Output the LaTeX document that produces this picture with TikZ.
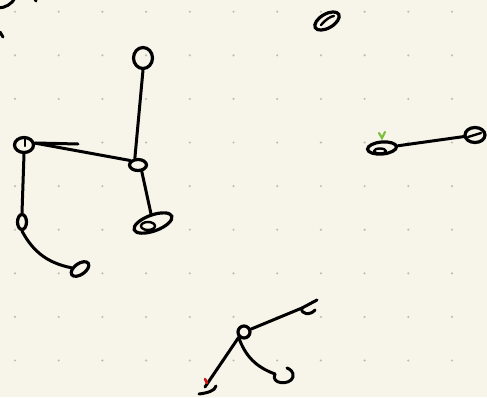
\documentclass[tikz,border=0pt]{standalone}
\definecolor{sketchpaper}{RGB}{247,245,233}
\definecolor{sketchdot}{RGB}{190,190,185}
\definecolor{sketchgreen}{RGB}{125,190,60}
\definecolor{sketchred}{RGB}{215,20,20}
\usepackage{tikz}
\usetikzlibrary{shapes.geometric, positioning}
\tikzset{
  blob/.style={ellipse, draw=black, line width=3.2pt, inner sep=0pt},
  stroke/.style={draw=black, line width=3pt, line cap=round, line join=round},
  scribble/.style={draw=black, line width=2.4pt, line cap=round, line join=round},
}
\begin{document}
\begin{tikzpicture}[x=1pt, y=-1pt]
  % paper
  \fill[sketchpaper] (0,0) rectangle (487,397);
  \useasboundingbox (0,0) rectangle (487,397);
  \clip (0,0) rectangle (487,397);
  % dot grid
  \foreach \i in {0,...,10}{
    \foreach \j in {0,...,8}{
      \fill[sketchdot] (15+43.7*\i, 11.7+43.6*\j) circle (1.2pt);
    }
  }
  % strokes cut off at the edge
  \draw[stroke] (-2,8) .. controls (5,8) and (12,4) .. (15,-2);
  \draw[stroke] (35,-1) -- (36,1);
  \draw[stroke] (0,32) -- (3,37);
  % left figure
  \node[blob, minimum width=19pt, minimum height=21pt] (head) at (143,58) {};
  \node[blob, minimum width=19pt, minimum height=15pt] (hub) at (24,145) {};
  \node[blob, minimum width=17pt, minimum height=11pt] (mid) at (138,165) {};
  \node[blob, minimum width=40pt, minimum height=16pt, rotate=20] (foot) at (153,223) {};
  \node[blob, minimum width=9pt, minimum height=15pt] (knee) at (22,222) {};
  \node[blob, minimum width=20pt, minimum height=11pt, rotate=35] (toe) at (80,269) {};
  \draw[stroke] (head.south) -- (mid.115);
  \draw[stroke] (hub.10) -- (mid.150);
  \draw[stroke] (36,143) -- (78,144);
  \draw[stroke] (mid.300) -- (foot);
  \draw[stroke] (hub.south) -- (knee.north);
  \draw[stroke] (knee.south) to[bend right=25] (toe);
  \draw[scribble] (148,226) ellipse (7pt and 4pt);
  \draw[scribble] (25,139) -- (25,146);
  % top right
  \node[blob, minimum width=27pt, minimum height=14pt, rotate=30] (ring) at (327,21) {};
  \draw[scribble] (321,25) .. controls (325,20) and (331,16) .. (334,16);
  % right pair
  \node[blob, minimum width=29pt, minimum height=12pt, rotate=5] (left) at (382,148) {};
  \node[blob, minimum width=20pt, minimum height=15pt] (right) at (475,135) {};
  \draw[stroke] (left) -- (right);
  \draw[scribble] (380,151) ellipse (6pt and 2.5pt);
  \draw[scribble] (468,137) -- (481,133);
  \draw[sketchgreen, line width=2.2pt, line cap=round] (379,133) -- (382,138) -- (385,132);
  % bottom figure
  \node[blob, minimum width=12pt, minimum height=12pt] (joint) at (244,332) {};
  \coordinate (arm) at (302,308);
  \coordinate (loop) at (275,374);
  \coordinate (stem) at (205,387);
  \draw[stroke] (joint) -- (arm);
  \draw[stroke] (joint.south west) to[bend right=25] (loop);
  \draw[stroke] (joint.south west) -- (stem);
  \draw[stroke] (317,300) -- (arm) .. controls (300,314) and (310,316) .. (315,310);
  \draw[stroke] (loop) .. controls (270,384) and (290,386) .. (293,377) .. controls (294,372) and (290,369) .. (287,368);
  \draw[stroke] (199,394) .. controls (207,393) and (215,391) .. (216,386);
  \draw[sketchred, line width=2.6pt, line cap=round] (205,379) -- (207,383);
\end{tikzpicture}
\end{document}
